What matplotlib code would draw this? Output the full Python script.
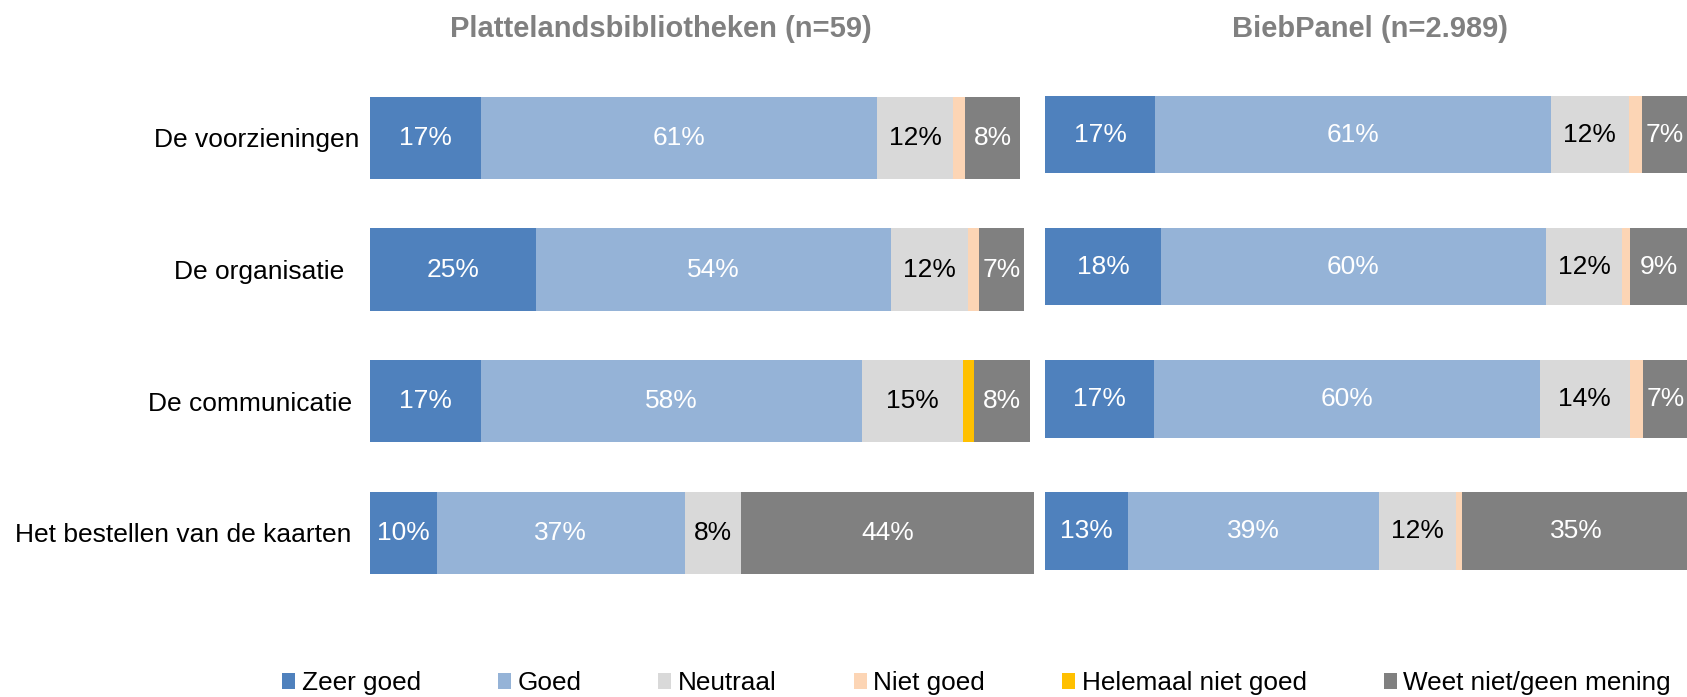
import matplotlib
matplotlib.use("Agg")
import matplotlib.pyplot as plt
from matplotlib.patches import Patch
import numpy as np

plt.rcParams['font.family'] = ['Liberation Sans', 'DejaVu Sans']

categories = ["De voorzieningen", "De organisatie  ", "De communicatie ", "Het bestellen van de kaarten "]
series = ["Zeer goed", "Goed", "Neutraal", "Niet goed", "Helemaal niet goed", "Weet niet/geen mening"]
colors = ["#4F81BD", "#95B3D7", "#D9D9D9", "#FCD5B5", "#FFC000", "#808080"]
text_colors = ["white", "white", "black", "black", "black", "white"]

titles = ["Plattelandsbibliotheken (n=59)", "BiebPanel (n=2.989)"]

# Plattelandsbibliotheken
zeer_goed_L = [17.1, 25.6, 17.1, 10.4]
goed_L = [60.8, 54.5, 58.6, 38.0]
neutraal_L = [11.8, 11.9, 15.5, 8.7]
niet_goed_L = [1.7, 1.7, 0.0, 0.0]
helemaal_L = [0.0, 0.0, 1.6, 0.0]
weet_niet_L = [8.6, 6.9, 8.6, 44.9]
labels_L = [["17%", "25%", "17%", "10%"],
            ["61%", "54%", "58%", "37%"],
            ["12%", "12%", "15%", "8%"],
            ["", "", "", ""],
            ["", "", "", ""],
            ["8%", "7%", "8%", "44%"]]

# BiebPanel
zeer_goed_R = [16.9, 17.8, 16.7, 12.7]
goed_R = [60.8, 59.1, 59.3, 38.6]
neutraal_R = [12.0, 11.8, 13.8, 11.8]
niet_goed_R = [2.0, 1.1, 2.0, 1.0]
helemaal_R = [0.0, 0.0, 0.0, 0.0]
weet_niet_R = [7.0, 9.0, 7.0, 35.0]
labels_R = [["17%", "18%", "17%", "13%"],
            ["61%", "60%", "60%", "39%"],
            ["12%", "12%", "14%", "12%"],
            ["", "", "", ""],
            ["", "", "", ""],
            ["7%", "9%", "7%", "35%"]]

W, H = 1687, 697
fig = plt.figure(figsize=(W / 100, H / 100), dpi=100)

def px_axes(x0, x1, ytop, ybot):
    return fig.add_axes([x0 / W, (H - ybot) / H, (x1 - x0) / W, (ybot - ytop) / H])

axL = px_axes(369.5, 369.5 + 103 * 6.51, 72.2, 598.6)
axR = px_axes(1045, 1045 + 100 * 6.51, 68.7, 597.0)

FS = 19
TFS = 21
LFS = 18.8

def draw(ax, data, labels, height, xmax, show_cats):
    y = np.arange(len(categories))
    left = np.zeros(len(categories))
    for s, vals in enumerate(data):
        vals = np.array(vals)
        ax.barh(y, vals, left=left, height=height, color=colors[s], edgecolor='none')
        for i, v in enumerate(vals):
            if labels[s][i]:
                ax.text(left[i] + v / 2, y[i], labels[s][i], ha='center', va='center',
                        color=text_colors[s], fontsize=FS)
        left += vals
    ax.set_xlim(0, xmax)
    ax.set_ylim(len(categories) - 0.5, -0.5)
    for sp in ax.spines.values():
        sp.set_visible(False)
    ax.set_xticks([])
    ax.tick_params(axis='y', length=0, pad=7.5)
    ax.set_yticks(y)
    if show_cats:
        ax.set_yticklabels(categories, fontsize=FS)
    else:
        ax.set_yticklabels([])

draw(axL, [zeer_goed_L, goed_L, neutraal_L, niet_goed_L, helemaal_L, weet_niet_L], labels_L, 0.625, 103, True)
draw(axR, [zeer_goed_R, goed_R, neutraal_R, niet_goed_R, helemaal_R, weet_niet_R], labels_R, 0.585, 100, False)

fig.text(661 / W, 1 - 29 / H, titles[0], ha='center', va='center', fontsize=TFS,
         fontweight='bold', color='#808080')
fig.text(1370.5 / W, 1 - 29 / H, titles[1], ha='center', va='center', fontsize=TFS,
         fontweight='bold', color='#808080')

handles = [Patch(facecolor=c, edgecolor='none') for c in colors]
fig.legend(handles, series, loc='center left', bbox_to_anchor=(282 / W, 14 / H),
           ncol=6, frameon=False, fontsize=LFS, handlelength=0.5, handleheight=0.6,
           handletextpad=0.25, columnspacing=2.95, borderpad=0, borderaxespad=0)

fig.savefig("out.png", dpi=100)
